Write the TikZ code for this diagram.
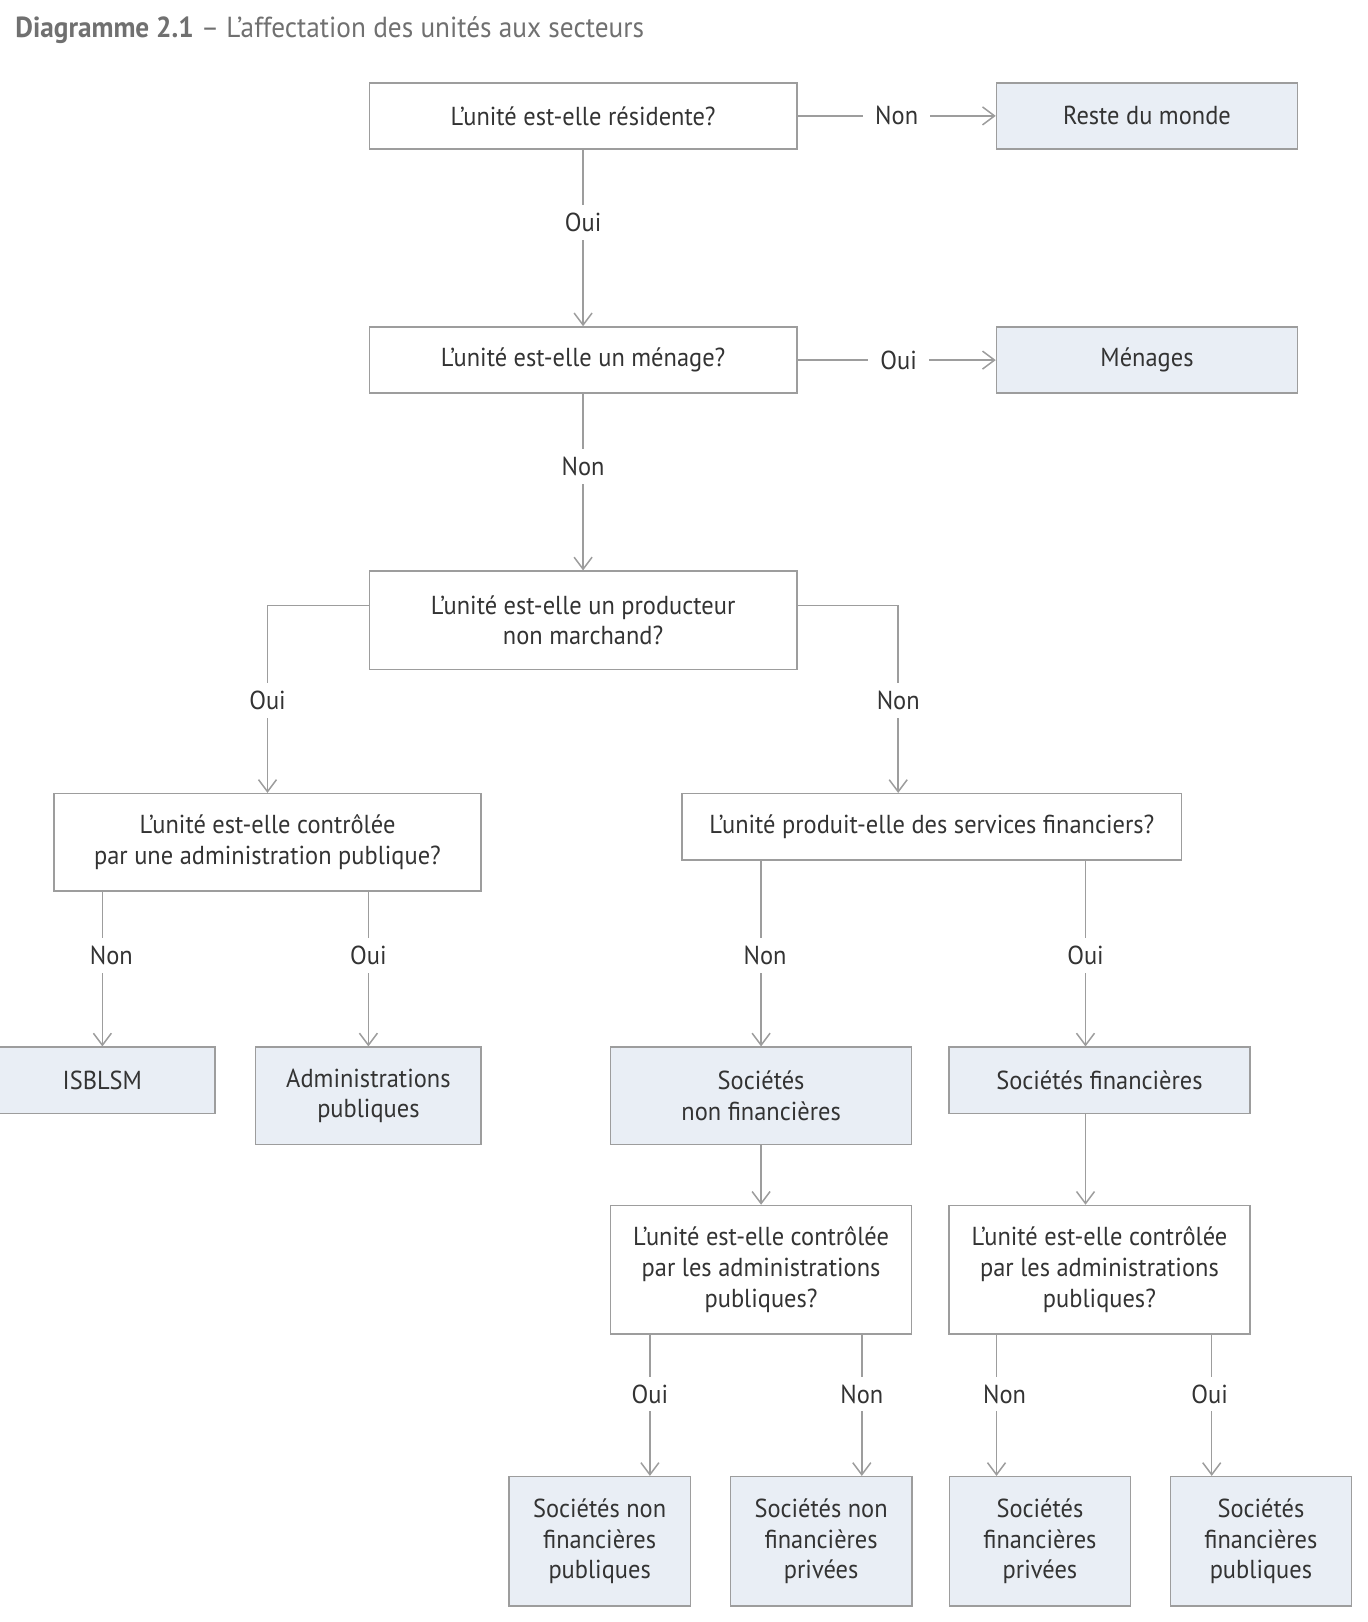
\documentclass[tikz,border=0pt]{standalone}
\usepackage{fontspec}
\setmainfont{PT Sans}[FakeStretch=0.94]
\usetikzlibrary{arrows.meta}

\definecolor{boxgray}{HTML}{9D9D9D}
\definecolor{sectorblue}{HTML}{E9EEF5}
\definecolor{textgray}{HTML}{333333}
\definecolor{titlegray}{HTML}{707070}

\tikzset{
    question/.style={draw=boxgray, line width=0.75pt, text=textgray, align=center,
        inner sep=0pt, font=\fontsize{13}{15.4}\selectfont},
    sector/.style={question, fill=sectorblue},
    answer/.style={fill=white, text=textgray, inner xsep=6pt, inner ysep=4pt,
        font=\fontsize{13}{15.4}\selectfont},
    flow/.style={draw=boxgray, line width=0.75pt, -{Straight Barb[length=6pt,width=9pt]}}
}

\begin{document}
\begin{tikzpicture}[x=0.5pt,y=-0.5pt]

\useasboundingbox (0,0) rectangle (1367,1622);

% Titre
\node[anchor=base west, inner sep=0pt, text=titlegray, font=\fontsize{14.5}{17}\selectfont]
(title) at (15,38) {\textbf{Diagramme 2.1} – L’affectation des unités aux secteurs};

% Residence et menages
\node[question, minimum width=213.7pt, minimum height=33.1pt] (resid) at (583.1,115.9)
{L’unité est-elle résidente?};
\node[sector, minimum width=150.5pt, minimum height=33.1pt] (rdm) at (1147,115.9)
{Reste du monde};

\node[question, minimum width=213.7pt, minimum height=33.1pt] (menage) at (583.1,360.1)
{L’unité est-elle un ménage?};
\node[sector, minimum width=150.5pt, minimum height=33.1pt] (menages) at (1147,360.1)
{Ménages};

\node[question, minimum width=213.7pt, minimum height=49.2pt] (marchand) at (583.1,620.35)
{L’unité est-elle un producteur\\non marchand?};

\draw[flow] (resid) -- node[answer] {Non} (rdm);
\draw[flow] (resid) -- node[answer, pos=0.41] {Oui} (menage);
\draw[flow] (menage) -- node[answer, pos=0.51] {Oui} (menages);
\draw[flow] (menage) -- node[answer, pos=0.41] {Non} (marchand);

% Producteurs non marchands
\node[question, minimum width=213.7pt, minimum height=48.7pt] (ctrlap) at (267.5,842.35)
{L’unité est-elle contrôlée\\par une administration publique?};

\node[sector, minimum width=112.8pt, minimum height=33.1pt] (isblsm) at (102.4,1080.3)
{ISBLSM};
\node[sector, minimum width=112.8pt, minimum height=48.7pt] (apu) at (368.4,1095.85)
{Administrations\\publiques};

% Producteurs marchands
\node[question, minimum width=249.9pt, minimum height=33.1pt] (finserv) at (931.8,826.8)
{L’unité produit-elle des services financiers?};

\node[sector, minimum width=150.6pt, minimum height=48.7pt] (snf) at (761.1,1095.85)
{Sociétés\\non financières};
\node[sector, minimum width=150.6pt, minimum height=33.1pt] (sf) at (1099.45,1080.3)
{Sociétés financières};

\coordinate (xnm) at (898.2,0);
\coordinate (xsf) at (1085.5,0);

\draw[flow] ([yshift=7.5pt]marchand.west) -| node[answer, pos=0.753] {Oui} (ctrlap.north);
\draw[flow] ([yshift=7.5pt]marchand.east) -| node[answer, pos=0.753] {Non} (finserv.north -| xnm);

\draw[flow] (ctrlap.south -| isblsm) -- node[answer, pos=0.41, xshift=4.5pt] {Non} (isblsm);
\draw[flow] (ctrlap.south -| apu) -- node[answer, pos=0.41] {Oui} (apu);

\draw[flow] (finserv.south -| snf) -- node[answer, pos=0.51, xshift=2pt] {Non} (snf);
\draw[flow] (finserv.south -| xsf) -- node[answer, pos=0.51] {Oui} (sf.north -| xsf);

% Controle public
\node[question, minimum width=150.6pt, minimum height=64.2pt] (ctrlsnf) at (761.1,1269.7)
{L’unité est-elle contrôlée\\par les administrations\\publiques?};
\node[question, minimum width=150.6pt, minimum height=64.2pt] (ctrlsf) at (1099.45,1269.7)
{L’unité est-elle contrôlée\\par les administrations\\publiques?};

\draw[flow] (snf) -- (ctrlsnf);
\draw[flow] (sf.south -| xsf) -- (ctrlsf.north -| xsf);

\node[sector, minimum width=90.6pt, minimum height=64.7pt] (snfpub) at (599.65,1541.35)
{Sociétés non\\financières\\publiques};
\node[sector, minimum width=90.6pt, minimum height=64.7pt] (snfpriv) at (821.15,1541.35)
{Sociétés non\\financières\\privées};
\node[sector, minimum width=90.6pt, minimum height=64.7pt] (sfpriv) at (1039.95,1541.35)
{Sociétés\\financières\\privées};
\node[sector, minimum width=90.6pt, minimum height=64.7pt] (sfpub) at (1260.9,1541.35)
{Sociétés\\financières\\publiques};

\foreach \from/\to/\xx/\ans/\dx in {
ctrlsnf/snfpub/649.9/Oui/0pt, ctrlsnf/snfpriv/861.8/Non/0pt,
ctrlsf/sfpriv/996.5/Non/4pt, ctrlsf/sfpub/1211.7/Oui/-1pt
}
{
    \coordinate (xc) at (\xx,0);
    \draw[flow] (\from.south -| xc) -- node[answer, pos=0.42, xshift=\dx] {\ans} (\to.north -| xc);
}

\end{tikzpicture}
\end{document}
